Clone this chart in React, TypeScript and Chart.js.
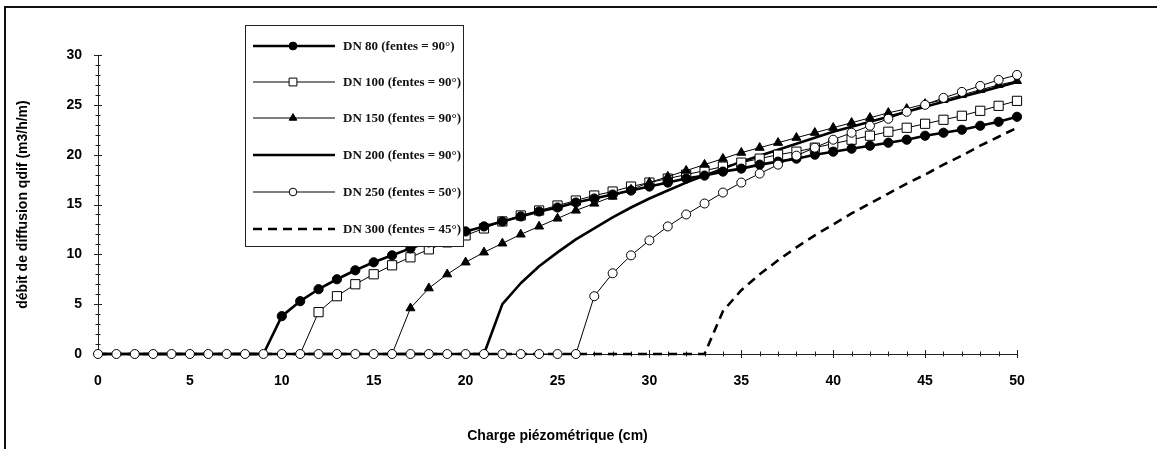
import React, { useEffect, useRef } from 'react';
import { Chart, registerables } from 'chart.js';
import { drawPoint } from 'chart.js/helpers';

Chart.register(...registerables);

// Charge piézométrique (cm)
const charge = [
  0, 1, 2, 3, 4, 5, 6, 7, 8, 9, 10, 11, 12, 13, 14, 15, 16, 17, 18, 19, 20,
  21, 22, 23, 24, 25, 26, 27, 28, 29, 30, 31, 32, 33, 34, 35, 36, 37, 38, 39, 40,
  41, 42, 43, 44, 45, 46, 47, 48, 49, 50,
];

// débit de diffusion qdif (m3/h/m)
const dn80 = [
  0, 0, 0, 0, 0, 0, 0, 0, 0, 0, 3.8, 5.3, 6.5, 7.5, 8.4, 9.2, 9.9, 10.6, 11.2, 11.8, 12.3,
  12.8, 13.3, 13.8, 14.3, 14.7, 15.2, 15.6, 16.0, 16.4, 16.8, 17.2, 17.6, 17.9, 18.3, 18.6,
  19.0, 19.3, 19.6, 20.0, 20.3, 20.6, 20.9, 21.2, 21.5, 21.9, 22.2, 22.5, 22.9, 23.3, 23.8,
];
const dn100 = [
  0, 0, 0, 0, 0, 0, 0, 0, 0, 0, 0, 0, 4.2, 5.8, 7.0, 8.0, 8.9, 9.7, 10.5, 11.2, 11.9,
  12.6, 13.3, 13.9, 14.4, 14.9, 15.4, 15.9, 16.3, 16.8, 17.2, 17.6, 18.0, 18.4, 18.8, 19.2,
  19.6, 20.0, 20.3, 20.7, 21.1, 21.5, 21.9, 22.3, 22.7, 23.1, 23.5, 23.9, 24.4, 24.9, 25.4,
];
const dn150 = [
  0, 0, 0, 0, 0, 0, 0, 0, 0, 0, 0, 0, 0, 0, 0, 0, 0, 4.6, 6.6, 8.0, 9.2,
  10.2, 11.1, 12.0, 12.8, 13.6, 14.4, 15.1, 15.8, 16.5, 17.2, 17.8, 18.4, 19.0, 19.6, 20.2,
  20.7, 21.2, 21.7, 22.2, 22.7, 23.2, 23.7, 24.2, 24.6, 25.1, 25.5, 26.0, 26.5, 27.0, 27.4,
];
const dn200 = [
  0, 0, 0, 0, 0, 0, 0, 0, 0, 0, 0, 0, 0, 0, 0, 0, 0, 0, 0, 0, 0,
  0, 5.0, 7.1, 8.8, 10.2, 11.5, 12.6, 13.7, 14.7, 15.6, 16.4, 17.2, 17.9, 18.6, 19.3,
  19.9, 20.5, 21.1, 21.7, 22.3, 22.8, 23.3, 23.8, 24.3, 24.8, 25.3, 25.8, 26.3, 26.8, 27.3,
];
const dn250 = [
  0, 0, 0, 0, 0, 0, 0, 0, 0, 0, 0, 0, 0, 0, 0, 0, 0, 0, 0, 0, 0,
  0, 0, 0, 0, 0, 0, 5.8, 8.1, 9.9, 11.4, 12.8, 14.0, 15.1, 16.2, 17.2,
  18.1, 19.0, 19.9, 20.7, 21.5, 22.2, 22.9, 23.6, 24.3, 25.0, 25.7, 26.3, 26.9, 27.5, 28.0,
];
const dn300 = [
  0, 0, 0, 0, 0, 0, 0, 0, 0, 0, 0, 0, 0, 0, 0, 0, 0, 0, 0, 0, 0,
  0, 0, 0, 0, 0, 0, 0, 0, 0, 0, 0, 0, 0, 4.3, 6.4,
  8.0, 9.4, 10.7, 11.9, 13.0, 14.1, 15.1, 16.1, 17.1, 18.0, 19.0, 19.9, 20.9, 21.8, 22.7,
];

const seriesLabels = [
  'DN 80 (fentes = 90°)',
  'DN 100 (fentes = 90°)',
  'DN 150 (fentes = 90°)',
  'DN 200 (fentes = 90°)',
  'DN 250 (fentes = 50°)',
  'DN 300 (fentes = 45°)',
];
const seriesValues = [dn80, dn100, dn150, dn200, dn250, dn300];

const xTicks = [0, 5, 10, 15, 20, 25, 30, 35, 40, 45, 50];
const yTicks = [0, 5, 10, 15, 20, 25, 30];

type SeriesStyle = {
  lineWidth: number;
  dash: number[];
  pointStyle: string | false;
  radius: number;
  fill: string;
  showZeros: boolean;
  order: number;
};

const styles: SeriesStyle[] = [
  { lineWidth: 2.6, dash: [], pointStyle: 'circle', radius: 4.6, fill: '#000', showZeros: false, order: 2 },
  { lineWidth: 1, dash: [], pointStyle: 'rect', radius: 6.5, fill: '#fff', showZeros: false, order: 3 },
  { lineWidth: 1, dash: [], pointStyle: 'triangle', radius: 5.2, fill: '#000', showZeros: false, order: 2 },
  { lineWidth: 2.6, dash: [], pointStyle: false, radius: 0, fill: '#000', showZeros: false, order: 4 },
  { lineWidth: 1, dash: [], pointStyle: 'circle', radius: 4.5, fill: '#fff', showZeros: true, order: 1 },
  { lineWidth: 2.6, dash: [9, 6], pointStyle: false, radius: 0, fill: '#000', showZeros: false, order: 5 },
];

const FONT = 'Liberation Sans, Arial, sans-serif';

const axisTicksPlugin = {
  id: 'axisTicks',
  beforeDatasetsDraw(chart: any) {
    const { ctx, scales } = chart;
    const x = scales.x;
    const y = scales.y;
    ctx.save();
    ctx.strokeStyle = '#222';
    ctx.lineWidth = 1;
    const y0 = y.getPixelForValue(0);
    const x0 = x.getPixelForValue(0);
    ctx.beginPath();
    for (let v = 0; v <= 50; v++) {
      const px = Math.round(x.getPixelForValue(v)) + 0.5;
      const len = v % 5 === 0 ? 4 : 2.5;
      ctx.moveTo(px, y0 - len);
      ctx.lineTo(px, y0 + len);
    }
    for (let v = 0; v <= 30; v++) {
      const py = Math.round(y.getPixelForValue(v)) + 0.5;
      const len = v % 5 === 0 ? 4 : 2.5;
      ctx.moveTo(x0 - len, py);
      ctx.lineTo(x0 + len, py);
    }
    ctx.stroke();
    ctx.restore();
  },
};

const legendPlugin = {
  id: 'boxLegend',
  afterDraw(chart: any) {
    const { ctx } = chart;
    const left = 245;
    const top = 25;
    const width = 218;
    const height = 221;
    ctx.save();
    ctx.fillStyle = '#fff';
    ctx.fillRect(left, top, width, height);
    ctx.strokeStyle = '#222';
    ctx.lineWidth = 1;
    ctx.strokeRect(left + 0.5, top + 0.5, width, height);
    const rowY = [46, 82, 118, 155, 192, 229];
    seriesLabels.forEach((label, i) => {
      const s = styles[i];
      const yy = rowY[i];
      ctx.save();
      ctx.strokeStyle = '#000';
      ctx.lineWidth = s.lineWidth;
      ctx.setLineDash(s.dash);
      ctx.beginPath();
      ctx.moveTo(253, yy);
      ctx.lineTo(335, yy);
      ctx.stroke();
      ctx.setLineDash([]);
      if (s.pointStyle) {
        ctx.fillStyle = s.fill;
        ctx.strokeStyle = '#000';
        ctx.lineWidth = 1;
        drawPoint(ctx, { pointStyle: s.pointStyle as any, rotation: 0, radius: s.radius * 0.85, borderWidth: 1 }, 293, yy);
      }
      ctx.restore();
      ctx.fillStyle = '#111';
      ctx.font = 'bold 13px "Liberation Serif", "Times New Roman", serif';
      ctx.textBaseline = 'middle';
      ctx.textAlign = 'left';
      ctx.fillText(label, 343, yy + 1);
    });
    ctx.restore();
  },
};

const framePlugin = {
  id: 'frame',
  beforeDraw(chart: any) {
    const { ctx, width, height } = chart;
    ctx.save();
    ctx.fillStyle = '#fff';
    ctx.fillRect(0, 0, width, height);
    ctx.strokeStyle = '#111';
    ctx.lineWidth = 2;
    ctx.beginPath();
    ctx.moveTo(5, height);
    ctx.lineTo(5, 7);
    ctx.lineTo(width, 7);
    ctx.stroke();
    ctx.restore();
  },
};

export default function App() {
  const canvasRef = useRef<HTMLCanvasElement | null>(null);

  useEffect(() => {
    const canvas = canvasRef.current;
    if (!canvas) return;
    const datasets = seriesValues.map((vals, i) => {
      const s = styles[i];
      return {
        label: seriesLabels[i],
        data: charge.map((c, j) => ({ x: c, y: vals[j] })),
        borderColor: '#000',
        backgroundColor: s.fill,
        borderWidth: s.lineWidth,
        borderDash: s.dash,
        pointStyle: s.pointStyle || 'circle',
        pointBackgroundColor: s.fill,
        pointBorderColor: '#000',
        pointBorderWidth: 1,
        pointRadius: (c: any) => {
          if (!s.pointStyle) return 0;
          const v = c.raw ? c.raw.y : 0;
          if (v === 0 && !s.showZeros) return 0;
          return s.radius;
        },
        tension: 0,
        fill: false,
        clip: false as any,
        order: s.order,
        borderJoinStyle: 'round' as const,
      };
    });

    const chart = new Chart(canvas, {
      type: 'line',
      data: { datasets },
      options: {
        responsive: false,
        animation: false,
        events: [],
        layout: { padding: { left: 0, top: 55, right: 140, bottom: 0 } },
        plugins: {
          legend: { display: false },
          tooltip: { enabled: false },
        },
        scales: {
          x: {
            type: 'linear',
            min: 0,
            max: 50,
            afterBuildTicks: (scale: any) => {
              scale.ticks = xTicks.map((v) => ({ value: v }));
            },
            afterFit: (scale: any) => {
              scale.height = 95;
            },
            grid: { display: false, drawTicks: false },
            border: { display: true, color: '#222', width: 1 },
            ticks: {
              color: '#000',
              padding: 19,
              maxRotation: 0,
              font: { family: FONT, size: 14, weight: 'bold' },
            },
            title: {
              display: true,
              text: 'Charge piézométrique (cm)',
              color: '#000',
              font: { family: FONT, size: 14, weight: 'bold' },
              padding: { top: 4, bottom: 4 },
            },
          },
          y: {
            type: 'linear',
            min: 0,
            max: 30,
            afterBuildTicks: (scale: any) => {
              scale.ticks = yTicks.map((v) => ({ value: v }));
            },
            afterFit: (scale: any) => {
              scale.width = 98;
            },
            grid: { display: false, drawTicks: false },
            border: { display: true, color: '#222', width: 1 },
            ticks: {
              color: '#000',
              padding: 16,
              font: { family: FONT, size: 14, weight: 'bold' },
            },
            title: {
              display: true,
              text: 'débit de diffusion qdif (m3/h/m)',
              color: '#000',
              font: { family: FONT, size: 14, weight: 'bold' },
              padding: { top: 15, bottom: 4 },
            },
          },
        },
      },
      plugins: [framePlugin, axisTicksPlugin, legendPlugin],
    });
    return () => chart.destroy();
  }, []);

  return (
    <div style={{ position: 'fixed', left: 0, top: 0, width: 1157, height: 449, background: '#fff', overflow: 'hidden' }}>
      <canvas ref={canvasRef} width={1157} height={449} style={{ position: 'absolute', left: 0, top: 0 }} />
    </div>
  );
}
